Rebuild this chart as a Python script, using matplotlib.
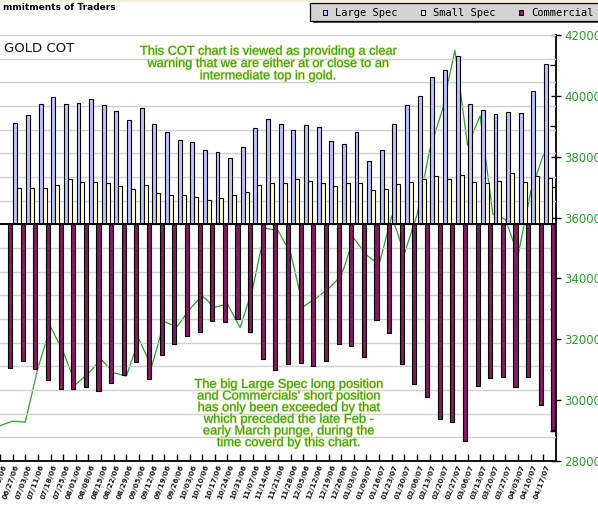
import numpy as np
import matplotlib
matplotlib.use("Agg")
import matplotlib.pyplot as plt
import matplotlib.patheffects as pe
import matplotlib.transforms as mtransforms
from matplotlib.patches import Rectangle
from matplotlib.ticker import MultipleLocator

# Data (weekly COT report dates, first week only partly visible)
dates = ["06/20/06", "06/27/06",
         "07/03/06", "07/11/06", "07/18/06", "07/25/06", "08/01/06", "08/08/06",
         "08/15/06", "08/22/06", "08/29/06", "09/05/06", "09/12/06", "09/19/06",
         "09/26/06", "10/03/06", "10/10/06", "10/17/06", "10/24/06", "10/31/06",
         "11/07/06", "11/14/06", "11/21/06", "11/28/06", "12/05/06", "12/12/06",
         "12/19/06", "12/26/06", "01/03/07", "01/09/07", "01/16/07", "01/23/07",
         "01/30/07", "02/06/07", "02/13/07", "02/20/07", "02/27/07", "03/06/07",
         "03/13/07", "03/20/07", "03/27/07", "04/03/07", "04/10/07", "04/17/07"]

large_spec = [np.nan,
              106800, 115500, 126800, 134300, 126800, 127800, 132000, 125800, 119300, 109800,
              122500, 105500, 97300, 88800, 86500, 78300, 76000, 69800, 81300, 101500,
              111000, 105500, 99300, 104500, 102500, 87800, 84500, 97300, 66500, 78300,
              105500, 125800, 135300, 155300, 162800, 177800, 126800, 120500, 116300, 118500,
              117300, 140500, 169000]

small_spec = [np.nan,
              38000, 38000, 38000, 41300, 47500, 44300, 44300, 43300, 40300, 37000,
              41300, 32800, 30800, 30800, 28500, 25300, 27500, 30800, 33800, 41300,
              43300, 43300, 47500, 45500, 43300, 40300, 43300, 43300, 36000, 37000,
              42300, 44300, 47500, 50800, 47500, 51800, 44300, 43300, 45500, 53800,
              44300, 50800, 48500]

commercial = [-152000,
              -144800, -152500, -164800, -174300, -174300, -172300, -176500, -167500, -159300, -145800,
              -163800, -138300, -126800, -118300, -114000, -102500, -103500, -100300, -114000, -142500,
              -154300, -147800, -146800, -150000, -144800, -126800, -128800, -140500, -101500, -115300,
              -147800, -169000, -182800, -206000, -209300, -229300, -171000, -162800, -161500, -172300,
              -161500, -191300, -217300]

gold = [291600,
        293100, 292800, 310500, 324100, 315900, 305200, 308800, 313400, 309000, 307900,
        320000, 311000, 325800, 324100, 329800, 334300, 330500, 331600, 323800, 336700,
        356500, 355700, 348300, 330700, 333500, 336700, 340800, 353200, 347700, 344600,
        360500, 348200, 360800, 382200, 395300, 415000, 383800, 393400, 361200, 359400,
        347700, 368500, 380600]

large_color = "#c0c0ff"
small_color = "#ffffc8"
comm_color = "#7f1d5f"
green = "#2f9f2f"

W, H = 598, 507
def px(v):
    return v / W
def py(v):
    return 1 - v / H

fig = plt.figure(figsize=(W / 100, H / 100), dpi=100)
ax = fig.add_axes([0, 46 / H, 556 / W, 426 / H])
ax2 = ax.twinx()
ax.set_zorder(2)
ax2.set_zorder(1)
ax.patch.set_visible(False)

x = np.arange(len(dates)) - 1
large = np.array(large_spec, dtype=float)
small = np.array(small_spec, dtype=float)
ok = ~np.isnan(large)

# bars
ax.bar(x[ok] + 0.055, large[ok], width=0.315, align="edge",
       color=large_color, edgecolor="black", linewidth=0.8, zorder=3)
ax.bar(x[ok] + 0.37, small[ok], width=0.31, align="edge",
       color=small_color, edgecolor="black", linewidth=0.8, zorder=3)
ax.bar(x + 0.635, commercial, width=0.325, align="edge",
       color=comm_color, edgecolor="black", linewidth=0.8, zorder=3)
ax.axhline(0, color="black", lw=1.4, zorder=4)

# gold line on right axis
ax2.plot(x, gold, color=green, lw=0.9)

ax.set_xlim(-0.469, 43.0)
ax.set_ylim(-250000, 200000)
ax.set_yticks(np.arange(-250000, 200001, 25000))
ax.yaxis.grid(True, color="#d0d0d0", lw=1.0)
ax.set_axisbelow(True)
ax.tick_params(axis="y", left=False, labelleft=False)

ax.set_xticks(x)
ax.set_xticklabels(dates, rotation=70, ha="right", va="top", rotation_mode="anchor",
                   fontsize=5.3, fontweight="bold", color="#1a1a1a")
ax.tick_params(axis="x", direction="in", length=5, width=1, pad=2)
offset = mtransforms.ScaledTranslation(2 / 100, 0, fig.dpi_scale_trans)
for lbl in ax.get_xticklabels():
    lbl.set_transform(lbl.get_transform() + offset)

for s in ["left", "top", "right"]:
    ax.spines[s].set_visible(False)
ax.spines["bottom"].set_linewidth(1.3)

ax2.set_ylim(280000, 420000)
ax2.set_yticks(np.arange(280000, 420001, 20000))
ax2.yaxis.set_minor_locator(MultipleLocator(10000))
ax2.tick_params(axis="y", which="major", direction="inout", length=7, width=1,
                labelcolor="#339933", labelsize=8.5, pad=2.5)
ax2.tick_params(axis="y", which="minor", direction="in", length=4, width=1)
for s in ["left", "top", "bottom"]:
    ax2.spines[s].set_visible(False)
ax2.spines["right"].set_linewidth(1.3)

# header and titles
fig.add_artist(Rectangle((0, py(2)), 1, 2 / H, transform=fig.transFigure,
                         facecolor="#f4f0d4", edgecolor="none"))
fig.text(px(3), py(8), "mmitments of Traders", fontsize=6.5, fontweight="bold",
         va="center", ha="left")
fig.text(px(4), py(48), "GOLD COT", fontsize=9.5, color="#111111",
         va="center", ha="left")

halo = [pe.withStroke(linewidth=0.9, foreground="#d8e070")]
fig.text(px(268), py(64),
         "This COT chart is viewed as providing a clear\n"
         "warning that we are either at or close to an\n"
         "intermediate top in gold.",
         family="Liberation Sans", fontsize=9.2, color=green, ha="center",
         va="center", multialignment="center", linespacing=1.03, path_effects=halo)
fig.text(px(288.5), py(414),
         "The big Large Spec long position\n"
         "and Commercials' short position\n"
         "has only been exceeded by that\n"
         "which preceded the late Feb -\n"
         "early March punge, during the\n"
         "time coverd by this chart.",
         family="Liberation Sans", fontsize=9.3, color=green, ha="center",
         va="center", multialignment="center", linespacing=0.96, path_effects=halo)

# legend box
fig.add_artist(Rectangle((px(313), py(23)), px(292), 17 / H, transform=fig.transFigure,
                         facecolor="#555555", edgecolor="none"))
fig.add_artist(Rectangle((px(310), py(20.5)), px(292), 17.5 / H, transform=fig.transFigure,
                         facecolor="#d4d4d4", edgecolor="black", lw=0.9))
for mx, tx, col, name in [(322.5, 335, large_color, "Large Spec"),
                          (420.5, 433, small_color, "Small Spec"),
                          (518.5, 531, comm_color, "Commercial")]:
    fig.add_artist(Rectangle((px(mx), py(14.5)), px(4), 4 / H, transform=fig.transFigure,
                             facecolor=col, edgecolor="black", lw=0.7))
    fig.text(px(tx), py(12.5), name, family="DejaVu Sans Mono", fontsize=7.5,
             va="center", ha="left")

fig.savefig("out.png", dpi=100)
